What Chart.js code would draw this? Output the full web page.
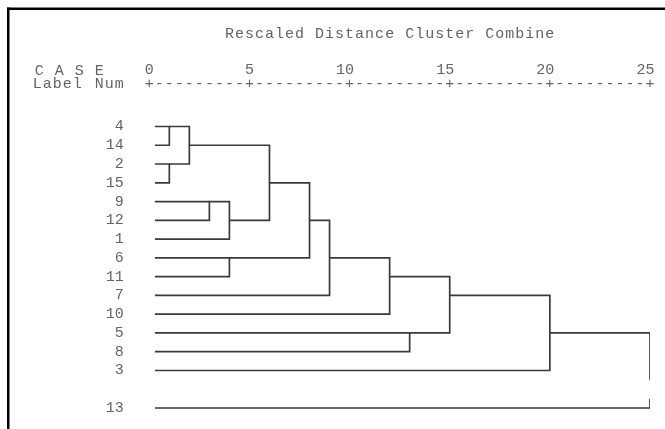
<!DOCTYPE html>
<html>
<head>
<meta charset="utf-8">
<script src="https://cdn.jsdelivr.net/npm/chart.js@4/dist/chart.umd.min.js"></script>
<style>
  html, body { margin: 0; padding: 0; background: #ffffff; }
  canvas { display: block; }
</style>
</head>
<body>
<canvas id="dendro" width="665" height="429"></canvas>
<script>
// Case numbers top to bottom in dendrogram order ('' marks the spacer row)
const caseNums = ['4', '14', '2', '15', '9', '12', '1', '6', '11', '7', '10', '5', '8', '3', '', '13'];

// Agglomeration steps: the clusters holding joinA[k] and joinB[k] combine at joinDist[k]
const joinA    = [4,  2,  4, 9,  9,  6, 4, 4, 4,  4,  5,  4,  4,  4];
const joinB    = [14, 15, 2, 12, 1, 11, 9, 6, 7, 10,  8,  5,  3, 13];
const joinDist = [1,  1,  2, 3,  4,  4,  6, 8, 9, 12, 13, 15, 20, 25];

// Rescaled distance axis ticks
const distTicks = [0, 5, 10, 15, 20, 25];

const titleText = 'Rescaled Distance Cluster Combine';
const caseHead = 'C A S E';
const labelHead = 'Label';
const numHead = 'Num';

const MONO = '"Liberation Mono", "DejaVu Sans Mono", monospace';
const FONT_SIZE = 15;
const TEXT_COLOR = '#646464';
const LINE_COLOR = '#3a3a3a';
const LEAF_START = 0.28;   // leaves begin just right of the zero mark

// Build one bracket path per agglomeration step
const clusterOf = {};
caseNums.forEach((c, i) => {
  if (c) clusterOf[c] = { x: LEAF_START, row: i, members: [c] };
});
const spacerRows = caseNums.map((c, i) => (c ? -1 : i)).filter(i => i >= 0);

const datasets = joinDist.map((d, k) => {
  const a = clusterOf[joinA[k]];
  const b = clusterOf[joinB[k]];
  const upper = a.row < b.row ? a : b;
  const lower = a.row < b.row ? b : a;
  const pts = [{ x: upper.x, y: upper.row }, { x: d, y: upper.row }];
  // the vertical stroke is interrupted across spacer rows
  spacerRows.filter(r => r > upper.row && r < lower.row).forEach(r => {
    pts.push({ x: d, y: r - 0.5 }, { x: d, y: null }, { x: d, y: r + 0.5 });
  });
  pts.push({ x: d, y: lower.row }, { x: lower.x, y: lower.row });

  const merged = {
    x: d,
    row: Math.floor((a.row + b.row) / 2),
    members: a.members.concat(b.members)
  };
  merged.members.forEach(m => { clusterOf[m] = merged; });

  return {
    data: pts,
    showLine: true,
    spanGaps: false,
    borderColor: LINE_COLOR,
    borderWidth: 1.7,
    pointRadius: 0,
    pointHoverRadius: 0,
    fill: false,
    tension: 0
  };
});

// Frame plus the text header (title, CASE heading and the +----+ ruler)
const headerPlugin = {
  id: 'asciiHeader',
  beforeDraw(chart) {
    const ctx = chart.ctx;
    ctx.save();
    ctx.fillStyle = '#ffffff';
    ctx.fillRect(0, 0, chart.width, chart.height);
    ctx.fillStyle = '#000000';
    ctx.fillRect(7, 7.5, chart.width - 7, 2.5);
    ctx.fillRect(7, 7.5, 2.5, chart.height - 7.5);
    ctx.restore();
  },
  afterDraw(chart) {
    const ctx = chart.ctx;
    const sx = chart.scales.x;
    // one text column is half a distance unit wide
    const colX = c => sx.getPixelForValue(c / 2);
    const put = (str, col0, baseline) => {
      for (let i = 0; i < str.length; i++) {
        if (str[i] !== ' ') ctx.fillText(str[i], colX(col0 + i), baseline);
      }
    };
    ctx.save();
    ctx.font = FONT_SIZE + 'px ' + MONO;
    ctx.fillStyle = TEXT_COLOR;
    ctx.textAlign = 'center';
    ctx.textBaseline = 'alphabetic';
    put(titleText, 8, 37.5);
    put(caseHead, -11, 74.5);
    put(labelHead, -11.2, 88);
    put(numHead, -5, 88);
    const last = distTicks[distTicks.length - 1] * 2;
    let ruler = '';
    for (let c = 0; c <= last; c++) ruler += (c % 10 === 0 ? '+' : '-');
    put(ruler, 0, 88);
    ctx.restore();
  }
};

new Chart(document.getElementById('dendro'), {
  type: 'scatter',
  data: { datasets },
  options: {
    responsive: false,
    animation: false,
    devicePixelRatio: 1,
    layout: { padding: { top: 0, left: 0, right: 15, bottom: 11.6 } },
    plugins: {
      legend: { display: false },
      tooltip: { enabled: false }
    },
    scales: {
      x: {
        type: 'linear',
        position: 'top',
        min: 0,
        max: 25,
        afterBuildTicks: s => { s.ticks = distTicks.map(v => ({ value: v })); },
        afterFit: s => {
          s.height = 117.1;
          s.paddingLeft = 0;
          s.paddingRight = 0;
        },
        grid: { display: false, drawTicks: false },
        border: { display: false },
        ticks: {
          autoSkip: false,
          maxRotation: 0,
          align: 'end',
          labelOffset: 4.5,
          padding: 38.5,
          color: TEXT_COLOR,
          font: { family: MONO, size: FONT_SIZE }
        }
      },
      y: {
        type: 'linear',
        reverse: true,
        min: -0.5,
        max: caseNums.length - 0.5,
        afterBuildTicks: s => { s.ticks = caseNums.map((_, i) => ({ value: i })); },
        afterFit: s => {
          s.width = 149.3;
          s.paddingTop = 0;
          s.paddingBottom = 0;
        },
        grid: { display: false, drawTicks: false },
        border: { display: false },
        ticks: {
          autoSkip: false,
          padding: 25.5,
          color: TEXT_COLOR,
          font: { family: MONO, size: FONT_SIZE },
          callback: v => caseNums[v] ?? ''
        }
      }
    }
  },
  plugins: [headerPlugin]
});
</script>
</body>
</html>
